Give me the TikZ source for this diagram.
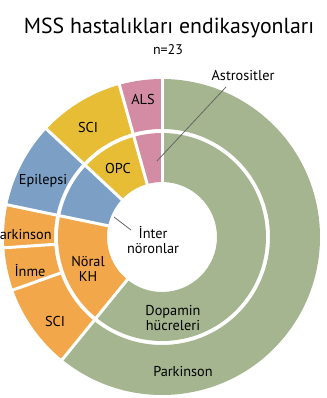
\documentclass[tikz,border=0pt]{standalone}
\usepackage{fontspec}
\setmainfont{PT Sans}
\usepackage{tikz}
\usetikzlibrary{calc}

\definecolor{dopagreen}{RGB}{164,181,143}
\definecolor{astropink}{RGB}{211,140,164}
\definecolor{opcyellow}{RGB}{230,189,52}
\definecolor{interblue}{RGB}{124,159,198}
\definecolor{noralorange}{RGB}{241,167,74}

\tikzset{
  lbl/.style={font=\fontsize{14.3}{14.5}\selectfont, align=center, inner sep=1pt},
  leader/.style={draw=black!60, line width=0.8pt}
}

\begin{document}
\begin{tikzpicture}[x=1pt, y=1pt]
    \useasboundingbox (-162,-161) rectangle (164,237);

    % outer ring
    \foreach \a/\b/\c in {90/105.652/astropink, 105.652/136.957/opcyellow,
        136.957/168.261/interblue, 168.261/183.913/noralorange,
        183.913/199.565/noralorange, 199.565/230.870/noralorange,
        230.870/450/dopagreen}
      \fill[\c] (\a:158) arc[start angle=\a, end angle=\b, radius=158pt]
        -- (\b:108) arc[start angle=\b, end angle=\a, radius=108pt] -- cycle;

    % inner ring
    \foreach \a/\b/\c in {90/105.652/astropink, 105.652/136.957/opcyellow,
        136.957/168.261/interblue, 168.261/230.870/noralorange,
        230.870/450/dopagreen}
      \fill[\c] (\a:104) arc[start angle=\a, end angle=\b, radius=104pt]
        -- (\b:55) arc[start angle=\b, end angle=\a, radius=55pt] -- cycle;

    % white gaps
    \foreach \a in {90, 105.652, 136.957, 168.261, 183.913, 199.565, 230.870}
      \draw[white, line width=3pt] (\a:106) -- (\a:160);
    \foreach \a in {90, 105.652, 136.957, 168.261, 230.870}
      \draw[white, line width=3pt] (\a:53) -- (\a:106);

    \node (title) at (7,209) {\fontsize{21.8}{24}\selectfont MSS hastalıkları endikasyonları};
    \node[font=\fontsize{14}{15}\selectfont] (n) at (6,187) {n=23};

    \node[lbl] (astro) at (81,161) {Astrositler};
    \node[lbl] (als) at (-19,138) {ALS};
    \node[lbl] (sciy) at (-74,110) {SCI};
    \node[lbl] (opc) at (-44,69) {OPC};
    \node[lbl] (epi) at (-119,56) {Epilepsi};
    \node[lbl] (parko) at (-140,2) {Parkinson};
    \node[lbl] (inme) at (-132,-34) {İnme};
    \node[lbl] (scio) at (-107,-84) {SCI};
    \node[lbl] (noral) at (-74,-32) {Nöral\\KH};
    \node[lbl] (inter) at (-9,-3) {İnter\\nöronlar};
    \node[lbl] (dopa) at (11,-81) {Dopamin\\hücreleri};
    \node[lbl] (parkg) at (21,-135) {Parkinson};

    \coordinate (astrostart) at (64,150);
    \coordinate (astrotip) at (-5,76);
    \coordinate (interstart) at (-48,20);
    \coordinate (intertip) at (-31,7);
    \draw[leader] (astrostart) -- (astrotip);
    \draw[leader] (interstart) -- (intertip);

  \end{tikzpicture}
\end{document}
